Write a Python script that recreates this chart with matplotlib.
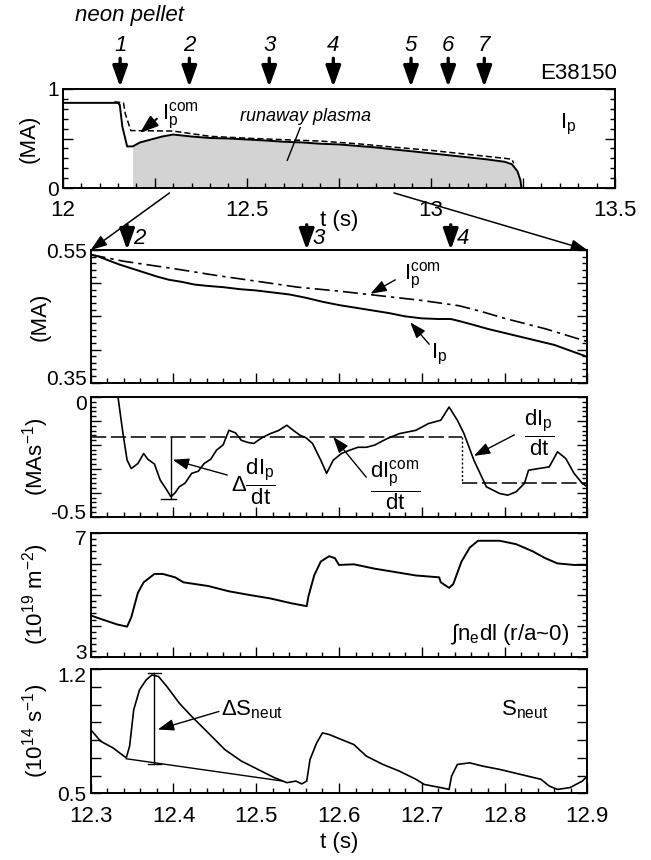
import matplotlib
matplotlib.use('Agg')
import matplotlib.pyplot as plt
from matplotlib.ticker import MultipleLocator, FuncFormatter
from matplotlib.patches import ConnectionPatch
from matplotlib.transforms import ScaledTranslation

plt.rcParams['font.family'] = ['Liberation Sans', 'DejaVu Sans']
plt.rcParams['mathtext.fontset'] = 'custom'
plt.rcParams['mathtext.rm'] = 'Liberation Sans'
plt.rcParams['mathtext.it'] = 'Liberation Sans:italic'
plt.rcParams['mathtext.sf'] = 'Liberation Sans'
plt.rcParams['mathtext.default'] = 'regular'

# ---- data ----
# neon pellet injection times (s)
pellet_t = [12.156, 12.344, 12.561, 12.735, 12.946, 13.047, 13.145]
pellet_n = ['1', '2', '3', '4', '5', '6', '7']
zoom_pellets = [1, 2, 3]  # indices of pellets 2, 3, 4

# overview plasma current (MA)
top_t = [12.0, 12.15, 12.155, 12.162, 12.175, 12.19, 12.21, 12.24, 12.27, 12.30, 12.35,
         12.40, 12.45, 12.50, 12.55, 12.60, 12.65, 12.70, 12.75, 12.80, 12.85, 12.90,
         12.95, 13.00, 13.05, 13.10, 13.15, 13.20, 13.22, 13.235, 13.243, 13.246]
top_ip = [0.86, 0.86, 0.84, 0.62, 0.42, 0.42, 0.46, 0.49, 0.52, 0.54, 0.52,
          0.505, 0.50, 0.49, 0.48, 0.467, 0.46, 0.447, 0.44, 0.425, 0.41, 0.389,
          0.37, 0.35, 0.33, 0.31, 0.29, 0.265, 0.24, 0.17, 0.08, 0.0]
top_com_t = [12.14, 12.165, 12.17, 12.185, 12.30, 12.40, 12.50, 12.60, 12.70, 12.80,
             12.90, 13.00, 13.10, 13.20, 13.22, 13.225]
top_com = [0.87, 0.86, 0.75, 0.58, 0.575, 0.522, 0.503, 0.488, 0.474, 0.447,
           0.412, 0.38, 0.34, 0.30, 0.29, 0.25]
fill_start = 12.19

# zoomed plasma current (MA)
ip_t = [12.300, 12.310, 12.320, 12.335, 12.350, 12.365, 12.380, 12.395, 12.410, 12.425,
        12.440, 12.460, 12.480, 12.500, 12.520, 12.540, 12.560, 12.580, 12.600, 12.620,
        12.640, 12.660, 12.680, 12.700, 12.720, 12.735, 12.745, 12.760, 12.780, 12.800,
        12.820, 12.840, 12.860, 12.880, 12.900]
ip = [0.543, 0.540, 0.535, 0.528, 0.522, 0.516, 0.510, 0.505, 0.502, 0.498,
      0.496, 0.494, 0.491, 0.489, 0.486, 0.483, 0.478, 0.472, 0.467, 0.463,
      0.459, 0.455, 0.450, 0.447, 0.446, 0.446, 0.443, 0.438, 0.431, 0.425,
      0.419, 0.413, 0.407, 0.398, 0.389]
ipcom_t = [12.300, 12.340, 12.400, 12.450, 12.500, 12.550, 12.600, 12.650, 12.700,
           12.745, 12.770, 12.800, 12.850, 12.900]
ipcom = [0.543, 0.533, 0.522, 0.512, 0.503, 0.494, 0.488, 0.481, 0.474,
         0.466, 0.458, 0.447, 0.431, 0.412]

# dIp/dt (MA/s)
dip_t = [12.331, 12.333, 12.339, 12.344, 12.349, 12.357, 12.364, 12.369, 12.377, 12.384,
         12.392, 12.397, 12.402, 12.407, 12.414, 12.422, 12.430, 12.437, 12.445, 12.452,
         12.460, 12.467, 12.475, 12.482, 12.490, 12.497, 12.507, 12.517, 12.527, 12.537,
         12.545, 12.553, 12.560, 12.568, 12.578, 12.585, 12.593, 12.603, 12.613, 12.623,
         12.633, 12.643, 12.658, 12.673, 12.693, 12.708, 12.723, 12.733, 12.743, 12.751,
         12.763, 12.778, 12.794, 12.804, 12.814, 12.824, 12.829, 12.839, 12.854, 12.864,
         12.874, 12.884, 12.894, 12.900]
dip = [0.02, 0.0, -0.153, -0.264, -0.299, -0.278, -0.236, -0.26, -0.28, -0.347,
       -0.389, -0.417, -0.40, -0.375, -0.36, -0.319, -0.31, -0.278, -0.26, -0.222,
       -0.20, -0.139, -0.15, -0.181, -0.19, -0.194, -0.17, -0.153, -0.14, -0.118,
       -0.14, -0.16, -0.17, -0.194, -0.264, -0.319, -0.264, -0.236, -0.222, -0.21,
       -0.21, -0.201, -0.174, -0.153, -0.139, -0.111, -0.097, -0.042, -0.097, -0.153,
       -0.264, -0.375, -0.403, -0.410, -0.396, -0.361, -0.306, -0.30, -0.292, -0.229,
       -0.257, -0.319, -0.361, -0.375]
dipcom_step_t = 12.749
dipcom_levels = [-0.167, -0.361]
delta_dip_t = 12.397
delta_dip = [-0.167, -0.424]

# line-integrated density (1e19 m^-2)
ne_t = [12.300, 12.312, 12.332, 12.344, 12.349, 12.357, 12.364, 12.377, 12.387, 12.402,
        12.412, 12.442, 12.467, 12.492, 12.517, 12.543, 12.561, 12.563, 12.570, 12.578,
        12.588, 12.595, 12.600, 12.618, 12.643, 12.668, 12.693, 12.721, 12.723, 12.733,
        12.738, 12.748, 12.758, 12.768, 12.794, 12.814, 12.834, 12.849, 12.864, 12.884,
        12.900]
ne = [4.33, 4.22, 4.04, 3.97, 4.27, 5.06, 5.40, 5.67, 5.67, 5.56,
      5.40, 5.28, 5.11, 4.99, 4.88, 4.72, 4.63, 4.94, 5.62, 6.07,
      6.24, 6.18, 5.96, 5.98, 5.84, 5.73, 5.62, 5.56, 5.40, 5.22,
      5.34, 6.07, 6.52, 6.74, 6.74, 6.63, 6.40, 6.18, 6.01, 5.96,
      5.96]

# neutron rate (1e14 /s)
sn_t = [12.300, 12.312, 12.327, 12.343, 12.347, 12.352, 12.359, 12.367, 12.374, 12.382,
        12.392, 12.407, 12.422, 12.442, 12.462, 12.482, 12.502, 12.522, 12.537, 12.548,
        12.555, 12.561, 12.565, 12.573, 12.580, 12.588, 12.598, 12.618, 12.633, 12.653,
        12.673, 12.693, 12.703, 12.723, 12.733, 12.736, 12.743, 12.758, 12.773, 12.794,
        12.819, 12.844, 12.854, 12.864, 12.879, 12.894, 12.900]
sn = [0.859, 0.794, 0.756, 0.700, 0.766, 0.972, 1.084, 1.140, 1.168, 1.159,
      1.103, 1.009, 0.934, 0.841, 0.747, 0.682, 0.635, 0.588, 0.560, 0.569,
      0.553, 0.569, 0.691, 0.784, 0.841, 0.832, 0.813, 0.775, 0.710, 0.663,
      0.625, 0.579, 0.550, 0.532, 0.522, 0.597, 0.663, 0.672, 0.654, 0.635,
      0.607, 0.579, 0.541, 0.522, 0.532, 0.569, 0.597]
sn_base_t = [12.343, 12.532]
sn_base = [0.695, 0.569]
delta_sn_t = 12.377
delta_sn = [0.663, 1.178]

FS = 16
fig = plt.figure(figsize=(6.51, 8.60), dpi=100)


def box(l, t, r, b):
    return [l / 651, 1 - b / 860, (r - l) / 651, (b - t) / 860]


def ends(lo, hi):
    return FuncFormatter(lambda v, p: '{:g}'.format(round(v, 3))
                         if abs(v - lo) < 1e-6 or abs(v - hi) < 1e-6 else '')


def style(ax):
    ax.tick_params(which='both', direction='in', top=False, right=True,
                   width=1.0, labelsize=FS)
    ax.tick_params(which='major', length=7)
    ax.tick_params(which='minor', length=3.5)
    ax.tick_params(axis='x', pad=9)
    ax.tick_params(axis='y', pad=3, labelsize=15)
    for s in ax.spines.values():
        s.set_linewidth(1.4)


def arrow(ax, xy, xytext, lw=1.0, scale=14, coords='data'):
    ax.annotate('', xy=xy, xytext=xytext, xycoords=coords, textcoords=coords,
                arrowprops=dict(arrowstyle='-|>,head_length=0.7,head_width=0.25',
                                lw=lw, color='k', mutation_scale=scale,
                                shrinkA=0, shrinkB=0),
                annotation_clip=False)


# ---- overview panel ----
ax0 = fig.add_axes(box(62.7, 89, 615, 188))
style(ax0)
i0 = top_t.index(fill_start)
ax0.fill_between(top_t[i0:], top_ip[i0:], 0, color='#d3d3d3', lw=0)
ax0.plot(top_t, top_ip, color='k', lw=1.4)
ax0.plot(top_com_t, top_com, color='k', lw=1.1, ls=(0, (4, 2)))
ax0.set_xlim(12, 13.5)
ax0.set_ylim(0, 1)
ax0.xaxis.set_major_locator(MultipleLocator(0.25))
ax0.xaxis.set_minor_locator(MultipleLocator(0.05))
ax0.xaxis.set_major_formatter(FuncFormatter(
    lambda v, p: '{:g}'.format(round(v, 2)) if abs(v * 2 - round(v * 2)) < 1e-6 else ''))
ax0.yaxis.set_major_locator(MultipleLocator(0.5))
ax0.yaxis.set_minor_locator(MultipleLocator(0.1))
ax0.yaxis.set_major_formatter(ends(0, 1))
ax0.set_ylabel('(MA)', fontsize=FS)
ax0.yaxis.set_label_coords(-0.041, 0.5)
ax0.text(0.5, -0.33, 't (s)', transform=ax0.transAxes, ha='center', va='center', fontsize=FS)
ax0.text(1.004, 1.16, 'E38150', transform=ax0.transAxes, ha='right', va='center', fontsize=FS)
ax0.text(13.35, 0.64, 'I$_p$', fontsize=FS, ha='left', va='center')
ax0.text(12.27, 0.73, 'I$_p^{com}$', fontsize=FS, ha='left', va='center')
arrow(ax0, (12.21, 0.556), (12.256, 0.70), lw=1.4, scale=16)
ax0.text(12.66, 0.72, 'runaway plasma', fontsize=13, style='italic', ha='center', va='center')
ax0.plot([12.645, 12.61], [0.61, 0.28], color='k', lw=1.0)

tr0 = ax0.get_xaxis_transform()
for t, n in zip(pellet_t, pellet_n):
    arrow(ax0, (t, 1.02), (t, 1.31), lw=2.4, scale=18, coords=tr0)
    ax0.text(t, 1.44, n, transform=tr0, ha='center', va='center', style='italic', fontsize=FS)
fig.text(129 / 651, 1 - 16 / 860, 'neon pellet', ha='center', va='center',
         style='italic', fontsize=FS)

# ---- zoomed panels ----
ax2 = fig.add_axes(box(90.7, 250, 587.3, 382.7))
ax3 = fig.add_axes(box(90.7, 397, 587.3, 516.7))
ax4 = fig.add_axes(box(90.7, 532.7, 587.3, 656.7))
ax5 = fig.add_axes(box(90.7, 669.3, 587.3, 793.3))
lower = [ax2, ax3, ax4, ax5]

ylims = [(0.35, 0.55), (-0.5, 0), (3, 7), (0.5, 1.2)]
ymaj = [0.05, 0.1, 1, 0.1]
ymin = [0.01, 0.02, 0.2, 0.1]
ylabels = ['(MA)', '(MAs$^{-1}$)', '(10$^{19}$ m$^{-2}$)', '(10$^{14}$ s$^{-1}$)']
for ax, lim, mj, mn, lab in zip(lower, ylims, ymaj, ymin, ylabels):
    style(ax)
    ax.set_xlim(12.3, 12.9)
    ax.set_ylim(*lim)
    ax.xaxis.set_major_locator(MultipleLocator(0.1))
    ax.xaxis.set_minor_locator(MultipleLocator(0.02))
    ax.yaxis.set_major_locator(MultipleLocator(mj))
    ax.yaxis.set_minor_locator(MultipleLocator(mn))
    ax.yaxis.set_major_formatter(ends(*lim))
    ax.set_ylabel(lab, fontsize=FS)
    ax.yaxis.set_label_coords(-0.08, 0.5)
    if ax is not ax5:
        ax.tick_params(labelbottom=False)

ax5.xaxis.set_major_formatter(FuncFormatter(lambda v, p: '{:g}'.format(round(v, 2))))
ax5.set_xlabel('t (s)', fontsize=FS, labelpad=4)

# Ip zoom
ax2.plot(ip_t, ip, color='k', lw=1.4)
ax2.plot(ipcom_t, ipcom, color='k', lw=1.2, ls=(0, (9, 3, 2, 3)))
ax2.text(12.678, 0.511, 'I$_p^{com}$', fontsize=FS, ha='left', va='center')
arrow(ax2, (12.638, 0.484), (12.668, 0.505))
ax2.text(12.711, 0.392, 'I$_p$', fontsize=FS, ha='left', va='center')
arrow(ax2, (12.686, 0.441), (12.709, 0.408))
tr2 = ax2.get_xaxis_transform()
for i in zoom_pellets:
    arrow(ax2, (pellet_t[i], 1.0), (pellet_t[i], 1.19), lw=2.4, scale=18, coords=tr2)
    ax2.text(pellet_t[i] + 0.007, 1.09, pellet_n[i], transform=tr2, ha='left',
             va='center', style='italic', fontsize=FS)

# zoom connector lines
for t in (12.3, 12.9):
    con = ConnectionPatch(xyA=(t - 0.01 if t < 12.5 else t, -0.05), coordsA=ax0.transData,
                          xyB=(t, 0.55), coordsB=ax2.transData,
                          arrowstyle='-|>,head_length=0.7,head_width=0.25',
                          mutation_scale=14, lw=1.1, color='k')
    fig.add_artist(con)

# dIp/dt
ax3.plot(dip_t, dip, color='k', lw=1.2, clip_on=True)
ax3.plot([12.3, dipcom_step_t], [dipcom_levels[0]] * 2, color='k', lw=1.1, ls=(0, (10, 3)))
ax3.plot([dipcom_step_t] * 2, dipcom_levels, color='k', lw=1.0, ls=(0, (1.5, 1.5)))
ax3.plot([dipcom_step_t, 12.9], [dipcom_levels[1]] * 2, color='k', lw=1.1, ls=(0, (10, 3)))
ax3.plot([delta_dip_t] * 2, delta_dip, color='k', lw=1.0)
ax3.plot([delta_dip_t - 0.012, delta_dip_t + 0.006], [delta_dip[1]] * 2, color='k', lw=1.0)
ax3.text(12.497, -0.355, r'$\Delta\dfrac{dI_p}{dt}$', fontsize=FS, ha='center', va='center')
arrow(ax3, (12.399, -0.262), (12.465, -0.326))
ax3.text(12.668, -0.37, r'$\dfrac{dI_p^{com}}{dt}$', fontsize=FS, ha='center', va='center')
arrow(ax3, (12.593, -0.167), (12.633, -0.335))
ax3.text(12.842, -0.15, r'$\dfrac{dI_p}{dt}$', fontsize=FS, ha='center', va='center')
arrow(ax3, (12.763, -0.246), (12.812, -0.158))

# density
ax4.plot(ne_t, ne, color='k', lw=1.4)
ax4.text(12.878, 3.72, '∫n$_e$dl (r/a~0)', fontsize=FS, ha='right', va='center')

# neutrons
ax5.plot(sn_t, sn, color='k', lw=1.2)
ax5.plot(sn_base_t, sn_base, color='k', lw=1.0)
ax5.plot([delta_sn_t] * 2, delta_sn, color='k', lw=1.0)
for v in delta_sn:
    ax5.plot([delta_sn_t - 0.008, delta_sn_t + 0.008], [v, v], color='k', lw=1.0)
ax5.text(12.457, 0.972, r'$\Delta$S$_{neut}$', fontsize=FS, ha='left', va='center')
arrow(ax5, (12.381, 0.86), (12.455, 0.962))
ax5.text(12.796, 0.972, 'S$_{neut}$', fontsize=FS, ha='left', va='center')

# nudge the end labels of stacked panels apart so they do not collide
fig.canvas.draw()
shift = 3.8 / 72
for ax, lim in zip(lower, ylims):
    for tick in ax.yaxis.get_major_ticks():
        loc = tick.get_loc()
        dy = 0
        if ax is not ax2 and abs(loc - lim[1]) < 1e-6:
            dy = -shift
        if ax is not ax5 and abs(loc - lim[0]) < 1e-6:
            dy = shift
        if dy:
            tick.label1.set_transform(tick.label1.get_transform()
                                      + ScaledTranslation(0, dy, fig.dpi_scale_trans))

fig.savefig('out.png', dpi=100)
